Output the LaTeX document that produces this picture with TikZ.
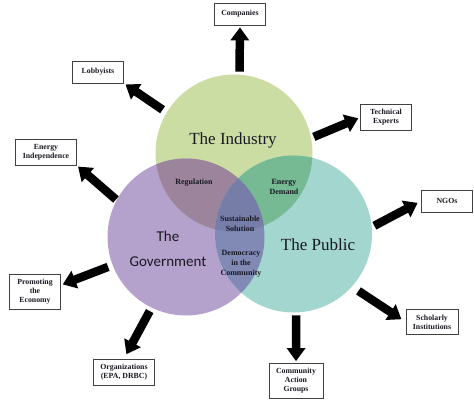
\documentclass[tikz,border=0pt]{standalone}
\usepackage{fontspec}
\setmainfont{Liberation Serif}
\newfontfamily\govfont{Carlito}
\usetikzlibrary{arrows.meta}
\definecolor{indgreen}{RGB}{204,221,163}
\definecolor{govpurple}{RGB}{180,162,204}
\definecolor{pubteal}{RGB}{163,214,206}
\definecolor{igmix}{RGB}{156,132,156}
\definecolor{ipmix}{RGB}{118,186,148}
\definecolor{gpmix}{RGB}{128,138,180}
\definecolor{allmix}{RGB}{118,126,168}
\definecolor{inkdark}{RGB}{25,25,35}
\tikzset{
  infobox/.style={rectangle, draw=black!75, fill=white, line width=0.7pt,
    minimum width=51pt, minimum height=22pt, inner xsep=7pt, inner ysep=5pt,
    align=center, text=inkdark, font=\fontsize{7.8}{9}\selectfont\bfseries},
  zonelabel/.style={align=center, text=inkdark,
    font=\fontsize{8}{10}\selectfont\bfseries},
  setname/.style={text=inkdark, font=\fontsize{17}{20}\selectfont},
  setcircle/.style={circle, minimum size=157pt, inner sep=0pt, outer sep=0pt},
  fatarrow/.style={-{Triangle[length=13pt, width=18pt]}, line width=8.5pt,
    black, shorten <=3pt, shorten >=2pt}
}

\begin{document}
\begin{tikzpicture}[x=1pt, y=-1pt]
  \useasboundingbox (0,0) rectangle (474,401);

  % the three sets
  \node[setcircle] (ind) at (234,153) {};
  \node[setcircle] (gov) at (186,237) {};
  \node[setcircle] (pub) at (293.5,234) {};
  \fill[indgreen] (ind.center) circle (78.5);
  \fill[govpurple] (gov.center) circle (78.5);
  \fill[pubteal] (pub.center) circle (78.5);
  \begin{scope}
    \clip (ind.center) circle (78.5);
    \fill[igmix] (gov.center) circle (78.5);
    \fill[ipmix] (pub.center) circle (78.5);
  \end{scope}
  \begin{scope}
    \clip (gov.center) circle (78.5);
    \fill[gpmix] (pub.center) circle (78.5);
    \clip (ind.center) circle (78.5);
    \fill[allmix] (pub.center) circle (78.5);
  \end{scope}

  % set names and overlaps
  \node[setname] (indname) at (233,140) {The Industry};
  \node[text=inkdark, align=center, font=\govfont\fontsize{15}{25}\selectfont] (govname) at (168,249) {The\\Government};
  \node[setname] (pubname) at (318,245) {The Public};
  \node[zonelabel] (regul) at (194,183) {Regulation};
  \node[zonelabel] (endem) at (284,187) {Energy\\Demand};
  \node[zonelabel] (sustain) at (240,224) {Sustainable\\Solution};
  \node[zonelabel] (democ) at (241,264) {Democracy\\in the\\Community};

  % outer boxes
  \node[infobox] (comp) at (240,14) {Companies};
  \node[infobox] (lobby) at (98,72) {Lobbyists};
  \node[infobox] (tech) at (386,117.5) {Technical\\Experts};
  \node[infobox] (enind) at (46,152) {Energy\\Independence};
  \node[infobox] (ngo) at (447,201) {NGOs};
  \node[infobox] (promo) at (35,292) {Promoting\\the\\Economy};
  \node[infobox] (org) at (124,372) {Organizations\\(EPA, DRBC)};
  \node[infobox] (comm) at (296,381) {Community\\Action\\Groups};
  \node[infobox] (schol) at (432,322) {Scholarly\\Institutions};

  % arrows
  \draw[fatarrow] (ind.86) -- (comp.south);
  \draw[fatarrow, shorten <=5pt] (ind.149) -- (lobby.south east);
  \draw[fatarrow] (ind.11) -- (tech.west);
  \draw[fatarrow, shorten <=1pt] (gov.152) -- (enind.south east);
  \draw[fatarrow, shorten >=4pt] (pub.5) -- (ngo.west);
  \draw[fatarrow, shorten <=5pt] (gov.201) -- (promo.15);
  \draw[fatarrow, shorten <=4pt, shorten >=5pt] (gov.244) -- (org.north);
  \draw[fatarrow] (pub.272) -- (comm.north);
  \draw[fatarrow, shorten <=8pt, shorten >=5pt] (pub.318) -- (schol.west);
\end{tikzpicture}
\end{document}
